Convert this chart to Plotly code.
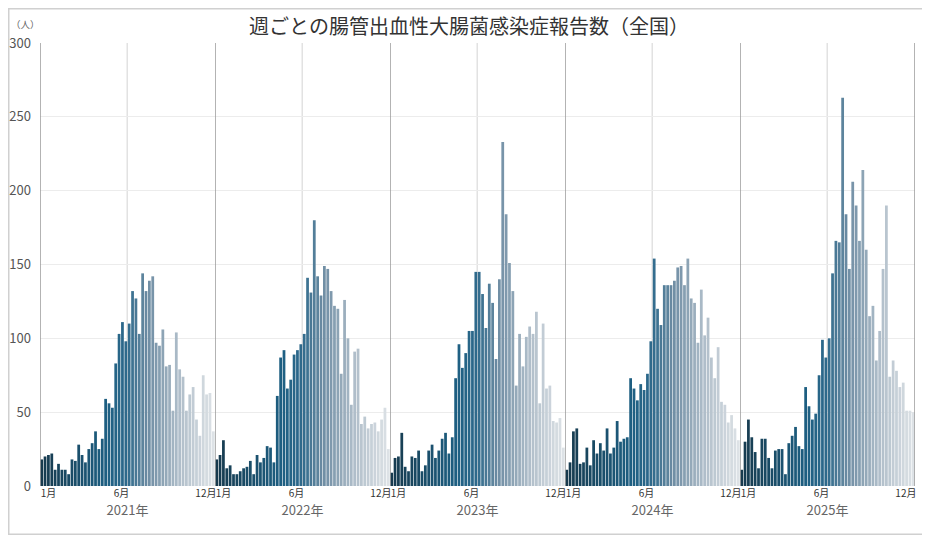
import plotly.graph_objects as go
from plotly.subplots import make_subplots

# weekly reports (週1〜52)
years = ["2021年", "2022年", "2023年", "2024年", "2025年"]
weeks = list(range(1, 53))

cases_2021 = [18, 20, 21, 22, 11, 15, 11, 11, 8, 18, 17, 28, 21, 16, 25, 29, 37, 25,
              32, 59, 56, 53, 83, 103, 111, 98, 110, 132, 127, 103, 144, 132, 139, 142,
              97, 95, 106, 81, 82, 51, 104, 79, 74, 51, 62, 67, 45, 34, 75, 62, 63, 37]
cases_2022 = [18, 21, 31, 12, 14, 8, 8, 10, 12, 13, 17, 8, 21, 16, 19, 27, 26, 16,
              61, 87, 92, 66, 72, 89, 92, 96, 103, 141, 131, 180, 142, 129, 149, 147,
              132, 122, 120, 76, 126, 100, 55, 91, 93, 42, 47, 39, 42, 43, 37, 45, 53, 25]
cases_2023 = [9, 19, 20, 36, 13, 10, 20, 19, 24, 10, 14, 24, 28, 19, 24, 32, 36, 22,
              33, 73, 96, 80, 90, 105, 105, 145, 145, 130, 107, 137, 124, 86, 140, 233,
              184, 151, 132, 68, 103, 81, 101, 108, 103, 118, 56, 110, 66, 68, 44, 43, 46, 26]
cases_2024 = [11, 16, 37, 39, 15, 16, 26, 14, 31, 22, 29, 24, 39, 22, 26, 44, 30, 32,
              33, 73, 66, 58, 69, 65, 76, 98, 154, 120, 109, 136, 136, 136, 139, 148,
              149, 136, 154, 127, 124, 97, 133, 102, 114, 87, 73, 94, 57, 55, 43, 48, 39, 31]
cases_2025 = [11, 30, 45, 33, 23, 12, 32, 32, 19, 12, 24, 25, 25, 8, 29, 34, 40, 27,
              25, 67, 54, 45, 49, 75, 99, 87, 100, 144, 166, 165, 263, 184, 147, 206,
              190, 166, 214, 160, 115, 122, 85, 105, 147, 190, 74, 85, 78, 67, 70, 51, 51, 50]
all_cases = [cases_2021, cases_2022, cases_2023, cases_2024, cases_2025]

month_labels = ["1月", "6月", "12月"]

FONT = "Noto Sans CJK JP"
week_colors = [[0, "#173a4e"], [0.2, "#1a4e6a"], [0.38, "#1d5f82"], [0.5, "#2f6a8c"],
               [0.62, "#6e8da3"], [0.8, "#afbdc9"], [1, "#dde2e6"]]

fig = make_subplots(rows=1, cols=5, shared_yaxes=True, horizontal_spacing=0)

for i, (year, cases) in enumerate(zip(years, all_cases)):
    col = i + 1
    fig.add_trace(go.Bar(x=weeks, y=cases, name=year, showlegend=False,
                         marker=dict(color=weeks, colorscale=week_colors, cmin=1, cmax=52,
                                     line=dict(width=0)),
                         hovertemplate=year + " 第%{x}週: %{y}人<extra></extra>"),
                  row=1, col=col)
    fig.update_xaxes(range=[0.5, 52.5], showgrid=False, zeroline=False, automargin=False,
                     tickvals=[3.0, 24.7, 49.8], ticktext=month_labels, ticks="",
                     tickfont=dict(size=10, color="#333", family=FONT),
                     title=dict(text=year, standoff=0,
                                font=dict(size=13, color="#666", family=FONT)),
                     row=1, col=col)
    # panel divider and 6月 line
    fig.add_vline(x=0.5, line=dict(color="#9a9a9a", width=1.5), layer="above", row=1, col=col)
    fig.add_vline(x=26.4, line=dict(color="#d4d4d4", width=1), layer="below", row=1, col=col)

fig.add_vline(x=52.5, line=dict(color="#9a9a9a", width=1.5), layer="above", row=1, col=5)

fig.update_yaxes(range=[0, 300], dtick=50, showgrid=True, gridcolor="#ececec", gridwidth=1,
                 zeroline=False, automargin=False, ticklabelstandoff=8,
                 tickfont=dict(size=13, color="#555", family=FONT))

fig.add_annotation(text="（人）", xref="paper", yref="paper", x=-0.017, y=1.0, yshift=19,
                   xanchor="center", yanchor="middle", showarrow=False,
                   font=dict(size=9.5, color="#666", family=FONT))

# light frame around the whole chart
fig.add_shape(type="rect", xref="paper", yref="paper", x0=-0.0357, x1=1.0163,
              y0=-0.1089, y1=1.0773, line=dict(color="#d0d0d0", width=1.5), layer="below")

fig.update_layout(
    width=922, height=527,
    margin=dict(l=32, r=15, t=35, b=49),
    title=dict(text="週ごとの腸管出血性大腸菌感染症報告数（全国）", x=0.5, xanchor="center",
               y=0.964, yanchor="middle", automargin=False,
               font=dict(size=20, color="#333", family=FONT)),
    bargap=0.18,
    plot_bgcolor="white", paper_bgcolor="white",
    font=dict(family=FONT),
)

fig.write_html("out.html")
